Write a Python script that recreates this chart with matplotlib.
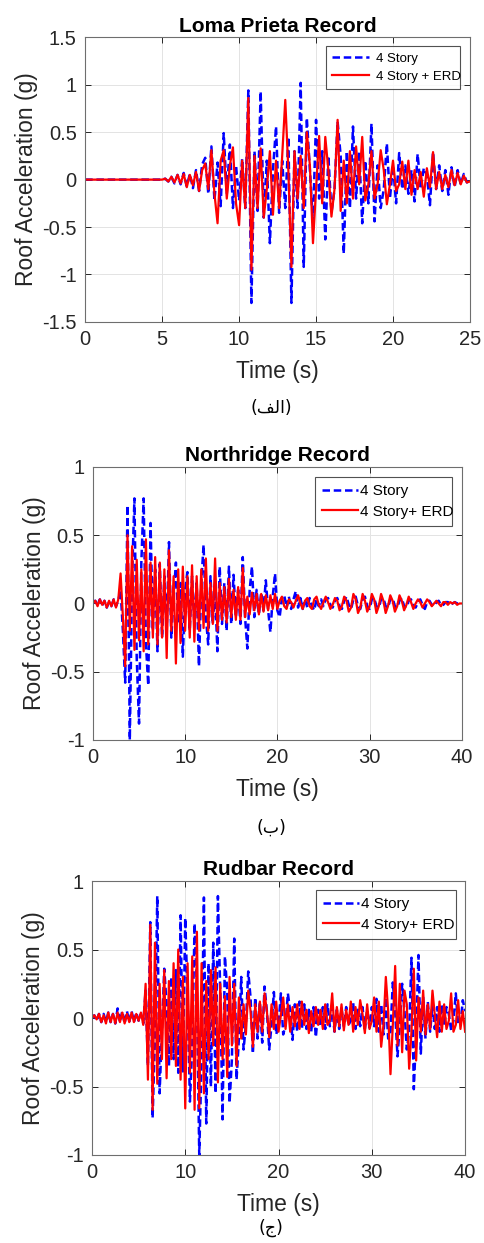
import matplotlib
matplotlib.use("Agg")
import matplotlib.pyplot as plt
import numpy as np

plt.rcParams['font.family'] = ['Liberation Sans', 'DejaVu Sans']
plt.rcParams['axes.unicode_minus'] = False

# ---- Loma Prieta: peaks every 0.2 s starting at 5 s (ground is quiet before 5 s)
lp_t0, lp_dt = 5.0, 0.2
lp_blue = [0.00, 0.01, -0.02, 0.03, -0.04, 0.05, -0.05, 0.07, -0.07, 0.06,
           -0.09, 0.10, -0.12, 0.16, 0.23, -0.15, 0.35, -0.22, 0.18, -0.28,
           0.49, -0.15, 0.37, -0.30, 0.15, -0.22, 0.22, -0.30, 0.94, -1.30,
           0.30, -0.33, 0.93, -0.40, 0.20, -0.67, 0.10, 0.56, -0.35, 0.20,
           -0.30, 0.45, -1.30, 0.30, -0.30, 1.02, -0.92, 0.65, 0.10, -0.45,
           0.63, -0.20, 0.30, -0.63, 0.25, -0.35, -0.10, 0.61, 0.25, -0.78,
           0.30, -0.30, 0.56, -0.20, 0.30, -0.46, 0.20, -0.25, 0.59, -0.44,
           0.15, -0.30, -0.10, 0.38, -0.20, 0.15, -0.25, 0.28, -0.10, 0.15,
           -0.15, 0.10, -0.23, 0.27, -0.10, 0.12, 0.05, -0.27, 0.29, -0.10,
           0.15, -0.12, 0.10, -0.16, 0.13, -0.08, 0.10, -0.05, 0.06, -0.03, 0.02]
lp_red = [0.00, 0.01, -0.02, 0.03, -0.03, 0.05, -0.04, 0.06, -0.08, 0.05,
          -0.06, 0.08, -0.12, 0.10, 0.17, -0.10, 0.31, -0.15, -0.46, 0.20,
          0.31, -0.20, 0.15, 0.34, -0.25, -0.48, 0.20, -0.30, 0.86, -0.95,
          0.25, -0.30, 0.33, -0.40, -0.10, 0.30, -0.37, 0.20, -0.30, 0.25,
          0.84, 0.10, -0.92, 0.30, -0.20, 0.25, -0.30, 0.50, 0.15, -0.67,
          -0.10, 0.46, -0.25, 0.45, 0.10, -0.39, -0.10, 0.63, -0.33, 0.20,
          -0.25, 0.30, -0.20, 0.35, -0.05, 0.45, -0.22, -0.05, 0.30, -0.20,
          -0.05, 0.31, 0.10, -0.26, -0.05, 0.20, -0.12, -0.05, 0.19, -0.10,
          0.20, -0.16, 0.10, -0.10, 0.08, -0.18, 0.12, -0.08, 0.29, -0.10,
          0.08, -0.10, 0.05, -0.08, 0.10, -0.06, 0.07, -0.05, 0.04, -0.03, -0.02]

# ---- Northridge: samples every 0.25 s from 0 s
nr_dt = 0.25
nr_blue = [0.00, 0.02, -0.01, 0.03, -0.02, 0.02, -0.03, 0.01, -0.02, 0.03,
           -0.02, 0.02, 0.10, -0.20, -0.58, 0.72, -1.00, 0.20, 0.77, -0.40,
           -0.88, 0.30, 0.77, -0.30, -0.60, 0.59, -0.20, 0.25, -0.35, 0.29,
           -0.25, 0.20, -0.20, 0.45, -0.25, 0.05, 0.30, -0.15, 0.15, -0.39,
           0.10, 0.23, -0.20, 0.20, -0.15, 0.15, -0.46, 0.15, 0.43, -0.10,
           -0.30, 0.20, -0.15, 0.10, -0.35, 0.27, -0.15, 0.15, -0.20, 0.27,
           -0.15, 0.21, -0.10, 0.10, -0.15, 0.34, -0.10, -0.33, 0.10, 0.27,
           -0.10, 0.10, -0.08, 0.08, -0.05, 0.17, -0.05, -0.21, 0.05, 0.22,
           -0.05, -0.10, 0.04, 0.06, -0.03, 0.05, -0.04, 0.03, 0.09, -0.03,
           0.04, -0.04, 0.03, -0.03, 0.04, -0.02, -0.05, 0.03, -0.02, 0.03,
           -0.02, 0.03, 0.04, -0.01, -0.03, 0.02, 0.04, -0.02, -0.04, 0.02,
           0.05, -0.01, -0.04, 0.03, 0.05, -0.02, -0.04, 0.03, 0.05, -0.02,
           -0.04, 0.03, 0.04, -0.02, -0.03, 0.03, 0.04, -0.02, -0.03, 0.03,
           0.04, -0.02, -0.03, 0.02, 0.04, -0.02, -0.03, 0.02, 0.03, -0.02,
           -0.03, 0.01, 0.03, -0.01, -0.04, 0.01, 0.02, -0.01, -0.02, 0.01,
           0.02, -0.01, -0.01, 0.01, 0.01, -0.01, 0.00, 0.01, 0.00, 0.00, 0.00]
nr_red = [0.00, 0.02, -0.02, 0.03, -0.01, 0.02, -0.03, 0.02, -0.02, 0.03,
          -0.03, 0.03, 0.22, -0.10, -0.46, 0.50, -0.20, 0.42, -0.34, 0.32,
          -0.27, 0.25, -0.35, 0.47, -0.30, 0.30, -0.25, 0.34, -0.30, 0.30,
          -0.25, 0.25, -0.40, 0.39, -0.20, 0.20, -0.44, 0.25, -0.29, 0.27,
          -0.20, 0.20, -0.25, 0.28, -0.28, 0.20, -0.20, 0.25, -0.18, 0.33,
          -0.20, 0.15, -0.15, 0.33, -0.20, 0.15, -0.12, 0.12, -0.14, 0.18,
          -0.10, 0.10, -0.12, 0.12, -0.12, 0.26, -0.10, 0.05, -0.08, 0.08,
          -0.05, 0.07, -0.08, 0.07, -0.06, 0.06, -0.05, 0.06, -0.04, 0.07,
          -0.04, 0.02, 0.05, -0.02, -0.04, 0.03, 0.01, -0.03, 0.02, 0.06,
          0.00, -0.04, 0.02, 0.04, -0.02, -0.04, 0.03, 0.05, -0.01, -0.04,
          0.01, 0.05, 0.01, -0.04, -0.01, 0.04, 0.02, -0.05, -0.02, 0.05,
          0.02, -0.06, -0.03, 0.07, 0.03, -0.07, -0.03, 0.07, 0.02, -0.06,
          -0.02, 0.07, 0.03, -0.07, -0.02, 0.07, 0.02, -0.07, -0.02, 0.06,
          0.02, -0.06, -0.02, 0.06, 0.02, -0.05, -0.01, 0.05, 0.01, -0.04,
          0.00, 0.03, 0.01, -0.03, 0.00, 0.03, 0.01, -0.02, 0.00, 0.02,
          0.00, -0.02, 0.01, 0.01, -0.01, 0.01, 0.00, 0.01, -0.01, 0.00, 0.00]

# ---- Rudbar: samples every 0.25 s from 0 s
rb_dt = 0.25
rb_blue = [0.00, 0.02, -0.02, 0.03, -0.03, 0.03, -0.03, 0.04, -0.03, 0.03,
           -0.04, 0.07, -0.03, 0.05, -0.04, 0.05, -0.03, 0.05, -0.03, 0.04,
           -0.02, 0.03, -0.04, 0.20, -0.35, 0.70, -0.73, -0.15, 0.89, -0.55,
           -0.10, 0.36, 0.10, -0.35, 0.30, -0.30, 0.35, -0.40, 0.75, -0.39,
           0.73, 0.15, -0.61, -0.20, 0.69, 0.20, -1.00, -0.30, 0.88, -0.77,
           0.40, -0.50, 0.55, -0.55, 0.89, 0.20, -0.74, 0.45, 0.20, -0.62,
           -0.30, 0.58, -0.45, -0.15, 0.30, -0.23, -0.05, 0.34, 0.15, -0.26,
           0.15, -0.15, 0.12, -0.18, 0.23, 0.05, -0.23, -0.05, 0.19, -0.12,
           -0.05, 0.18, -0.12, -0.05, 0.18, 0.05, -0.16, 0.10, -0.10, 0.12,
           -0.08, 0.10, -0.08, 0.06, -0.10, 0.08, -0.14, 0.06, -0.06, 0.08,
           -0.08, 0.10, -0.06, 0.08, -0.10, 0.06, -0.08, 0.07, -0.06, 0.08,
           -0.05, -0.02, 0.11, -0.08, 0.06, -0.06, 0.08, -0.08, 0.06, -0.07,
           0.08, -0.06, 0.14, -0.10, 0.10, -0.12, 0.15, -0.15, -0.10, 0.26,
           0.05, -0.28, -0.05, 0.25, 0.05, -0.23, -0.10, 0.44, -0.52, -0.10,
           0.46, -0.26, 0.15, -0.15, 0.12, -0.10, 0.10, -0.08, 0.08, -0.10,
           0.10, -0.06, 0.08, 0.03, -0.09, -0.02, 0.18, -0.05, -0.05, 0.13, 0.05]
rb_red = [0.00, 0.02, -0.01, 0.03, -0.03, 0.02, -0.04, 0.04, -0.03, 0.03,
          -0.04, 0.04, -0.03, 0.04, -0.04, 0.03, -0.03, 0.04, -0.03, 0.03,
          -0.02, 0.04, -0.05, 0.25, -0.45, 0.68, -0.67, 0.55, -0.48, 0.25,
          -0.30, 0.35, -0.44, 0.27, -0.30, 0.40, -0.35, 0.50, -0.45, 0.30,
          -0.66, 0.40, -0.40, 0.45, -0.67, 0.63, -0.66, 0.40, -0.55, 0.27,
          -0.30, 0.35, -0.20, 0.37, -0.47, 0.25, -0.30, 0.16, -0.43, 0.30,
          -0.20, 0.25, -0.35, 0.15, -0.15, 0.10, -0.12, 0.20, 0.05, -0.21,
          0.10, -0.10, 0.12, -0.10, 0.18, 0.05, -0.14, 0.10, -0.08, 0.12,
          -0.10, 0.02, 0.15, -0.08, 0.10, -0.10, 0.08, -0.06, 0.10, -0.08,
          0.12, -0.05, 0.06, -0.11, 0.05, -0.06, 0.08, -0.05, 0.06, -0.08,
          0.10, -0.05, -0.02, 0.18, -0.10, 0.08, -0.06, 0.10, -0.09, 0.06,
          -0.05, 0.12, -0.10, 0.08, -0.05, 0.13, 0.03, -0.11, 0.10, -0.08,
          -0.02, 0.15, -0.10, 0.12, -0.21, -0.05, 0.30, 0.05, -0.41, -0.05,
          0.38, -0.20, 0.25, -0.25, 0.20, 0.10, -0.37, -0.10, 0.36, -0.31,
          0.15, -0.10, 0.20, -0.12, 0.10, -0.08, 0.20, 0.02, -0.14, 0.12,
          -0.10, 0.10, -0.08, -0.02, 0.18, -0.10, -0.05, 0.13, -0.08, 0.05, -0.10]

lp_yticks = [-1.5, -1, -0.5, 0, 0.5, 1, 1.5]
lp_yticklabels = ['-1.5', '-1', '-0.5', '0', '0.5', '1', '1.5']
nr_yticks = [-1, -0.5, 0, 0.5, 1]
nr_yticklabels = ['-1', '-0.5', '0', '0.5', '1']


def series_time(t0, dt, values):
    return t0 + dt * np.arange(len(values))


def caption(letters):
    # Arabic letters given in display (left-to-right) order, already shaped
    return '(' + letters + ')'


fig = plt.figure(figsize=(4.84, 12.43), dpi=100)

panels = [
    dict(rect=[0.176, 0.741, 0.795, 0.229], title='Loma Prieta Record',
         xlim=(0, 25), xticks=[0, 5, 10, 15, 20, 25], ylim=(-1.5, 1.5),
         yticks=lp_yticks, yticklabels=lp_yticklabels,
         labels=('4 Story', '4 Story + ERD'), legend_fs=9.5,
         legend_box=(0.626, 0.814, 0.348, 0.154), textpad=0.5, hlen=2.8,
         cap='\uFED2\uFEDF\uFE8D', cap_y=408),
    dict(rect=[0.192, 0.4047, 0.762, 0.2196], title='Northridge Record',
         xlim=(0, 40), xticks=[0, 10, 20, 30, 40], ylim=(-1, 1),
         yticks=nr_yticks, yticklabels=nr_yticklabels,
         labels=('4 Story', '4 Story+ ERD'), legend_fs=11,
         legend_box=(0.602, 0.813, 0.371, 0.150), textpad=0.1, hlen=2.4,
         cap='\uFE8F', cap_y=828),
    dict(rect=[0.190, 0.0708, 0.771, 0.2204], title='Rudbar Record',
         xlim=(0, 40), xticks=[0, 10, 20, 30, 40], ylim=(-1, 1),
         yticks=nr_yticks, yticklabels=nr_yticklabels,
         labels=('4 Story', '4 Story+ ERD'), legend_fs=11,
         legend_box=(0.600, 0.810, 0.375, 0.157), textpad=0.1, hlen=2.4,
         cap='\uFE9D', cap_y=1228),
]

data = [
    (np.concatenate([[0.0], series_time(lp_t0, lp_dt, lp_blue)]), [0.0] + lp_blue,
     np.concatenate([[0.0], series_time(lp_t0, lp_dt, lp_red)]), [0.0] + lp_red),
    (series_time(0.0, nr_dt, nr_blue), nr_blue, series_time(0.0, nr_dt, nr_red), nr_red),
    (series_time(0.0, rb_dt, rb_blue), rb_blue, series_time(0.0, rb_dt, rb_red), rb_red),
]

for p, (tb, vb, tr, vr) in zip(panels, data):
    ax = fig.add_axes(p['rect'])
    ax.plot(tb, vb, color='#0000ff', lw=1.8, dashes=(3, 1.5), label=p['labels'][0])
    ax.plot(tr, vr, color='#ff0000', lw=1.6, label=p['labels'][1])
    ax.set_xlim(*p['xlim'])
    ax.set_ylim(*p['ylim'])
    ax.set_xticks(p['xticks'])
    ax.set_xticklabels([str(x) for x in p['xticks']])
    ax.set_yticks(p['yticks'])
    ax.set_yticklabels(p['yticklabels'])
    ax.grid(True, color='#e3e3e3', lw=0.7)
    ax.set_axisbelow(True)
    ax.tick_params(direction='in', top=True, right=True, length=4, width=0.7,
                   labelsize=14.5, colors='#262626', pad=6)
    for s in ax.spines.values():
        s.set_color('#6e6e6e')
        s.set_linewidth(0.8)
    ax.set_title(p['title'], fontsize=15, fontweight='bold', pad=4)
    ax.set_xlabel('Time (s)', fontsize=16.5, color='#262626', labelpad=8)
    ax.set_ylabel('Roof Acceleration (g)', fontsize=16.5, color='#262626', labelpad=3)
    leg = ax.legend(loc='upper left', bbox_to_anchor=p['legend_box'], mode='expand',
                    fontsize=p['legend_fs'], frameon=True, fancybox=False,
                    handlelength=p['hlen'], borderaxespad=0, handletextpad=p['textpad'],
                    labelspacing=0.45, borderpad=0.45)
    leg.get_frame().set_edgecolor('#262626')
    leg.get_frame().set_linewidth(0.8)
    fig.text(0.56, 1 - p['cap_y'] / 1243, caption(p['cap']), ha='center', va='center',
             fontsize=12.5, family=['DejaVu Sans'])

fig.savefig('out.png', dpi=100)
